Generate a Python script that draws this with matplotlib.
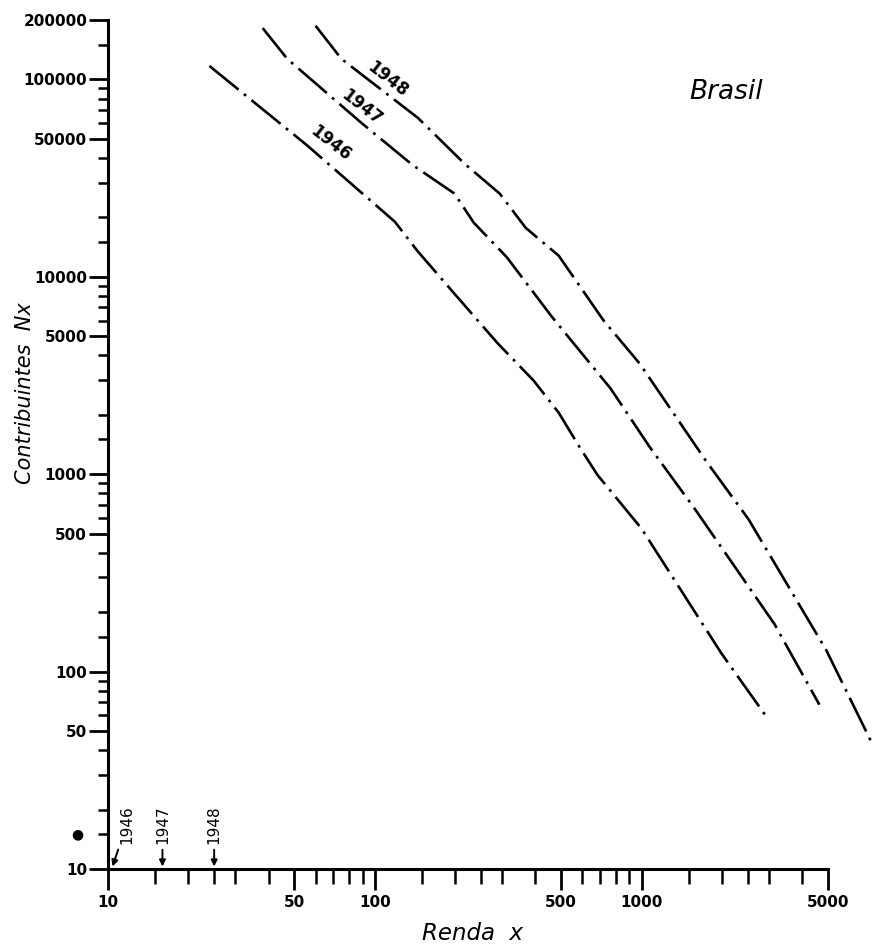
import matplotlib
matplotlib.use("Agg")
import matplotlib.pyplot as plt
from matplotlib.ticker import FixedLocator, FixedFormatter, NullFormatter

# Pareto curves for Brazil: income (renda x) vs. number of taxpayers (Nx)
renda_1946 = [24, 56, 119, 144, 196, 289, 394, 489, 586, 684, 1000, 1990, 2940]
contrib_1946 = [117000, 46100, 19000, 13600, 8400, 4600, 2980, 2050, 1370, 990, 530, 124, 59]

renda_1947 = [38, 47, 89, 138, 199, 235, 312, 460, 765, 1070, 1580, 3150, 4640]
contrib_1947 = [182000, 127000, 60300, 37000, 26400, 18800, 12600, 6300, 2720, 1380, 670, 174, 68]

renda_1948 = [60, 75, 145, 217, 294, 368, 489, 721, 983, 1750, 2520, 4930, 7330]
contrib_1948 = [187000, 127000, 63900, 37400, 26400, 17700, 12800, 6000, 3640, 1160, 590, 128, 43]

anos = ["1946", "1947", "1948"]
# where each year's label sits along its curve
label_renda = [68, 89, 112]
label_contrib = [47700, 71800, 100700]
# exemption limits marked with arrows on the income axis
limite_renda = [10.4, 16, 25]

x_major = [10, 50, 100, 500, 1000, 5000]
x_minor = [15, 20, 25, 30, 40, 60, 70, 80, 90, 150, 200, 250, 300, 400,
           600, 700, 800, 900, 1500, 2000, 2500, 3000, 4000]
y_major = [10, 50, 100, 500, 1000, 5000, 10000, 50000, 100000, 200000]
y_minor = [15, 20, 30, 40, 60, 70, 80, 90, 150, 200, 300, 400, 600, 700, 800, 900,
           1500, 2000, 3000, 4000, 6000, 7000, 8000, 9000, 15000, 20000, 30000,
           40000, 60000, 70000, 80000, 90000, 150000]

plt.rcParams['lines.scale_dashes'] = False
tick_font = dict(family='DejaVu Sans', weight='bold', size=11)

fig = plt.figure(figsize=(8.75, 9.47), dpi=100)
ax = fig.add_axes([108 / 875, 78 / 947, 1 - 108 / 875, 849 / 947])
ax.set_xscale('log')
ax.set_yscale('log')
ax.set_xlim(10, 7500)
ax.set_ylim(10, 200000)

dash = (0, (27, 5, 2, 5))
for rx, cy in [(renda_1946, contrib_1946), (renda_1947, contrib_1947), (renda_1948, contrib_1948)]:
    ax.plot(rx, cy, color='black', lw=1.9, linestyle=dash, clip_on=False,
            dash_capstyle='butt')

for ano, lx, ly in zip(anos, label_renda, label_contrib):
    ax.text(lx, ly, ano, rotation=-38, ha='center', va='center',
            family='DejaVu Sans', weight='bold', size=12)

# spines
for s in ['top', 'right']:
    ax.spines[s].set_visible(False)
ax.spines['left'].set_linewidth(2.2)
ax.spines['bottom'].set_linewidth(2.2)
ax.spines['left'].set_bounds(10, 200000)
ax.spines['bottom'].set_bounds(10, 5000)

ax.xaxis.set_major_locator(FixedLocator(x_major))
ax.xaxis.set_major_formatter(FixedFormatter([str(v) for v in x_major]))
ax.xaxis.set_minor_locator(FixedLocator(x_minor))
ax.xaxis.set_minor_formatter(NullFormatter())
ax.yaxis.set_major_locator(FixedLocator(y_major))
ax.yaxis.set_major_formatter(FixedFormatter([str(v) for v in y_major]))
ax.yaxis.set_minor_locator(FixedLocator(y_minor))
ax.yaxis.set_minor_formatter(NullFormatter())

ax.tick_params(axis='x', which='major', direction='out', length=15, width=2, pad=4)
ax.tick_params(axis='x', which='minor', direction='out', length=11, width=1.8)
ax.tick_params(axis='y', which='major', direction='out', length=14, width=2, pad=1)
ax.tick_params(axis='y', which='minor', direction='out', length=7, width=1.8)
for lab in ax.get_xticklabels() + ax.get_yticklabels():
    lab.set_fontproperties(matplotlib.font_manager.FontProperties(**tick_font))

# the stray dot on the y axis at 15
ax.text(-0.04, 15, '\u25cf', transform=ax.get_yaxis_transform(), ha='center',
        va='center', fontsize=10, clip_on=False)

# year arrows on the income axis
offsets = [(10, 30), (0, 30), (0, 30)]
for ano, lim, off in zip(anos, limite_renda, offsets):
    ax.annotate(ano, xy=(lim, 10.3), xytext=off, textcoords='offset points',
                rotation=90, ha='center', va='center', annotation_clip=False,
                family='DejaVu Sans', size=11,
                arrowprops=dict(arrowstyle='-|>', color='black', lw=1.4,
                                mutation_scale=9, shrinkA=2, shrinkB=0))

ax.text(0.806, 0.915, 'Brasil', transform=ax.transAxes, ha='center', va='center',
        fontsize=19, style='italic', family='DejaVu Sans')
fig.text(25 / 875, 1 - 393 / 947, 'Contribuintes  Nx', rotation=90, ha='center',
         va='center', fontsize=15, style='italic', family='DejaVu Sans')
fig.text(472 / 875, 1 - 933 / 947, 'Renda  x', ha='center', va='center',
         fontsize=16.5, style='italic', family='DejaVu Sans')

fig.savefig('out.png', dpi=100, facecolor='white')
